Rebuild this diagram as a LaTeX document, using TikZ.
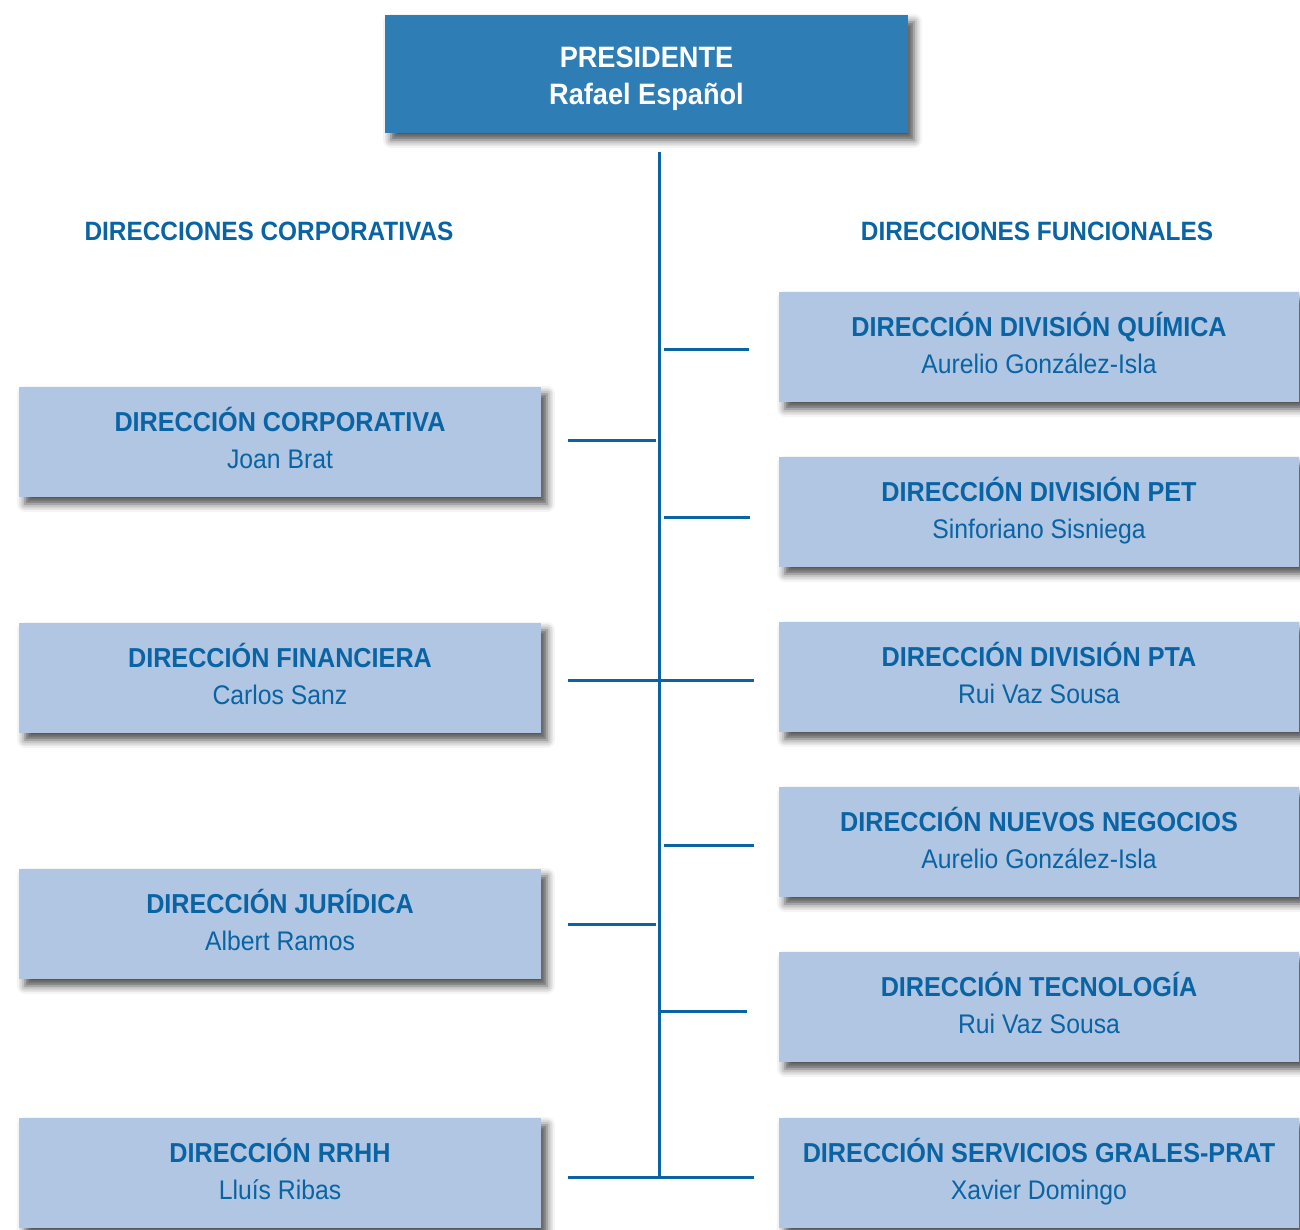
\documentclass[tikz,border=0pt]{standalone}
\usepackage{fontspec}
\setmainfont{Liberation Sans}[FakeStretch=0.92]
\usetikzlibrary{shadows.blur}
\definecolor{dblue}{HTML}{0A64A4}
\definecolor{pblue}{HTML}{2E7DB5}
\definecolor{lblue}{HTML}{B0C6E2}
\begin{document}
\begin{tikzpicture}[x=1pt,y=-1pt,
  shd/.style={blur shadow={shadow xshift=6pt, shadow yshift=-7pt, shadow blur radius=8pt, shadow opacity=70}},
  lbox/.style={rectangle, fill=lblue, minimum width=522pt, minimum height=110pt, inner sep=0pt, shd},
  rbox/.style={rectangle, fill=lblue, minimum width=520pt, minimum height=110pt, inner sep=0pt, shd},
  pbox/.style={rectangle, fill=pblue, minimum width=523pt, minimum height=118pt, inner sep=0pt, shd},
  ttl/.style={anchor=base, inner sep=0pt, text=dblue, font=\fontsize{27.4}{30}\selectfont\bfseries},
  head/.style={anchor=base, inner sep=0pt, text=dblue, font=\fontsize{26.5}{30}\selectfont\bfseries},
  nam/.style={anchor=base, inner sep=0pt, text=dblue, font=\fontsize{26.9}{30}\selectfont},
  ptxt/.style={anchor=base, inner sep=0pt, text=white, font=\fontsize{29.5}{32}\selectfont\bfseries},
  conn/.style={draw=dblue, line width=3pt},
]
\useasboundingbox (0,0) rectangle (1300,1230);

% president
\node[pbox] (pres) at (646.5,74) {};
\node[ptxt] (presT) at ([yshift=-53pt]pres.north) {PRESIDENTE};
\node[ptxt] (presN) at ([yshift=-90pt]pres.north) {Rafael Español};

% headings
\node[head] (hcorp) at (269,241) {DIRECCIONES CORPORATIVAS};
\node[head] (hfunc) at (1037,241) {DIRECCIONES FUNCIONALES};

% left boxes
\node[lbox] (corp) at (280,442) {};
\node[lbox] (fin) at (280,678) {};
\node[lbox] (jur) at (280,924) {};
\node[lbox] (rrhh) at (280,1173) {};

% right boxes
\node[rbox] (quim) at (1039,347) {};
\node[rbox] (pet) at (1039,512) {};
\node[rbox] (pta) at (1039,677) {};
\node[rbox] (nue) at (1039,842) {};
\node[rbox] (tec) at (1039,1007) {};
\node[rbox] (serv) at (1039,1173) {};

% texts
\foreach \b/\t/\n in {corp/DIRECCIÓN CORPORATIVA/Joan Brat,
                      fin/DIRECCIÓN FINANCIERA/Carlos Sanz,
                      jur/DIRECCIÓN JURÍDICA/Albert Ramos,
                      rrhh/DIRECCIÓN RRHH/Lluís Ribas,
                      quim/DIRECCIÓN DIVISIÓN QUÍMICA/Aurelio González-Isla,
                      pet/DIRECCIÓN DIVISIÓN PET/Sinforiano Sisniega,
                      pta/DIRECCIÓN DIVISIÓN PTA/Rui Vaz Sousa,
                      nue/DIRECCIÓN NUEVOS NEGOCIOS/Aurelio González-Isla,
                      tec/DIRECCIÓN TECNOLOGÍA/Rui Vaz Sousa,
                      serv/DIRECCIÓN SERVICIOS GRALES-PRAT/Xavier Domingo}{
  \node[ttl] (\b T) at ([yshift=-45pt]\b.north) {\t};
  \node[nam] (\b N) at ([yshift=-82pt]\b.north) {\n};
}

% trunk
\coordinate (ttop) at (659,152);
\coordinate (tbot) at (659,1177);
\draw[conn] (ttop) -- (tbot);

% left connectors
\draw[conn] ([xshift=27pt,yshift=2pt]corp.east) -- ([xshift=-3pt,yshift=2pt]corp.east -| ttop);
\draw[conn] ([xshift=27pt,yshift=-2pt]fin.east) -- ([yshift=-2pt]fin.east -| ttop);
\draw[conn] ([xshift=27pt]jur.east) -- ([xshift=-3pt]jur.east -| ttop);
\draw[conn] ([xshift=27pt]rrhh.east |- tbot) -- (tbot);

% right connectors
\draw[conn] ([xshift=5pt,yshift=-2pt]quim.west -| ttop) -- ([xshift=-30pt,yshift=-2pt]quim.west);
\draw[conn] ([xshift=5pt,yshift=-5pt]pet.west -| ttop) -- ([xshift=-29pt,yshift=-5pt]pet.west);
\draw[conn] ([yshift=-3pt]pta.west -| ttop) -- ([xshift=-25pt,yshift=-3pt]pta.west);
\draw[conn] ([xshift=5pt,yshift=-3pt]nue.west -| ttop) -- ([xshift=-25pt,yshift=-3pt]nue.west);
\draw[conn] ([xshift=2pt,yshift=-4pt]tec.west -| ttop) -- ([xshift=-32pt,yshift=-4pt]tec.west);
\draw[conn] (tbot) -- ([xshift=-25pt]serv.west |- tbot);
\end{tikzpicture}
\end{document}
